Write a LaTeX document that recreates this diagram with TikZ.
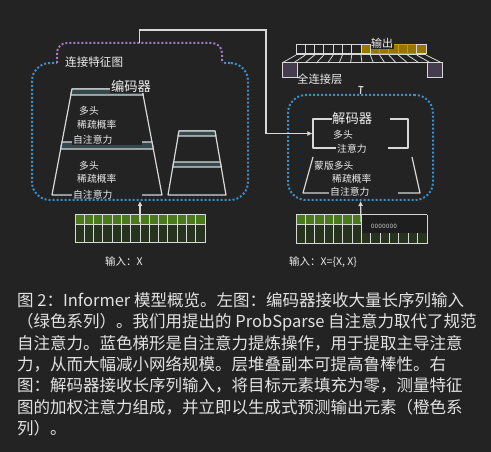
\documentclass[tikz,border=0pt]{standalone}
\usepackage{fontspec}
\newfontfamily\cjk{Noto Sans CJK SC}
\usetikzlibrary{arrows.meta}
\definecolor{bgdark}{HTML}{232323}
\definecolor{lineg}{HTML}{D8D8D8}
\definecolor{barfill}{HTML}{34494D}
\definecolor{encblue}{HTML}{3B8FCA}
\definecolor{catpurple}{HTML}{A57AC9}
\definecolor{ingreen}{HTML}{4B7A1D}
\definecolor{indark}{HTML}{28331F}
\definecolor{outgold}{HTML}{9A7400}
\definecolor{goldline}{HTML}{C49A16}
\definecolor{fcpurple}{HTML}{453D4D}
\definecolor{txtw}{HTML}{EEEEEE}
\definecolor{captxt}{HTML}{E2E2E2}

\begin{document}
\begin{tikzpicture}[x=1pt,y=-1pt,>={Latex[length=5pt,width=5pt]},
    every node/.style={inner sep=0pt,text=txtw},
    lbl/.style={font=\cjk\fontsize{9.8}{11}\selectfont,anchor=west},
    lblmask/.style={lbl,fill=bgdark,inner xsep=1pt,inner ysep=0.5pt,align=left},
    boxtitle/.style={font=\cjk\fontsize{13.3}{15}\selectfont,fill=bgdark,inner sep=1pt},
    capline/.style={font=\cjk\fontsize{16.5}{21}\selectfont,text=captxt,anchor=base west},
    stackline/.style={draw=lineg,line width=1.2pt,line join=round},
    stackbar/.style={stackline,fill=barfill},
    dotbox/.style={dash pattern=on 2pt off 2pt,line width=2pt,rounded corners=18pt},
    flow/.style={draw=lineg,line width=1.2pt},
    gridline/.style={draw=lineg,line width=1pt}]
\fill[bgdark] (0,0) rectangle (491,452);
\useasboundingbox (0,0) rectangle (491,452);

% encoder stack
\draw[stackline] (72,89) -- (52,195) -- (162,195) -- (142,89) -- cycle;
\draw[stackbar] (72,89) -- (142,89) -- (143.1,95) -- (70.9,95) -- cycle;
\draw[stackbar] (62,142) -- (152,142) -- (153.3,149) -- (60.7,149) -- cycle;
\draw[stackline] (179,131) -- (168,195) -- (226,195) -- (215,131) -- cycle;
\draw[stackbar] (179,131) -- (215,131) -- (215.9,136) -- (178.1,136) -- cycle;
\draw[stackbar] (173.7,162) -- (220.3,162) -- (221.2,167) -- (172.8,167) -- cycle;
\node[lbl] (emh1) at (79,111) {多头};
\node[lbl] (esp1) at (77,125) {稀疏概率};
\node[lblmask,text width=68pt] (esa1) at (72,140) {自注意力};
\node[lbl] (emh2) at (79,166) {多头};
\node[lbl] (esp2) at (77,179) {稀疏概率};
\node[lblmask,text width=68pt] (esa2) at (72,195) {自注意力};
\node[boxtitle] (enctitle) at (131,86) {编码器};

% decoder stack
\node[stackline,minimum width=95pt,minimum height=29pt] (xatt) at (360.5,133.5) {};
\draw[stackline] (313,157) -- (303,193) -- (420,193) -- (412,157);
\node[boxtitle,anchor=west,text width=58pt,align=left,inner sep=0pt] (dectitle) at (332,118) {解码器};
\node[lbl] (dmh1) at (333,135) {多头};
\node[lblmask,text width=50pt] (dxa) at (336,149) {注意力};
\node[lbl] (dmask) at (314,166) {蒙版多头};
\node[lbl] (dsp) at (332,179) {稀疏概率};
\node[lblmask,text width=67pt] (dsa) at (329,192) {自注意力};

% dotted boxes
\node[dotbox,draw=encblue,minimum width=216pt,minimum height=137pt] (enc) at (140,131.5) {};
\node[dotbox,draw=encblue,minimum width=145pt,minimum height=105pt] (dec) at (360.5,147.5) {};
\fill[bgdark] (57,43) rectangle (222,64);
\draw[dotbox,draw=catpurple,rounded corners=10pt] (57,63) -- (57,43) -- (222,43) -- (222,63);
\coordinate (cat) at (139.5,43);
\node[font=\cjk\fontsize{11.6}{13}\selectfont,fill=bgdark,inner sep=1pt,anchor=west] (catlbl) at (64,62) {连接特征图};

% encoder input
\fill[ingreen] (75,215) rectangle (205,225);
\fill[indark] (75,225) rectangle (205,243);
\foreach \k in {0,...,14}
  \draw[gridline] ({75+\k*130/14},215) -- ({75+\k*130/14},243);
\draw[gridline] (75,225) -- (205,225);
\draw[gridline] (75,215) rectangle (205,243);
\coordinate (encin) at (140,222);
\node[font=\cjk\fontsize{10.5}{12}\selectfont] (enclbl) at (124,261) {输入：X};

% decoder input
\fill[ingreen] (296,215) rectangle (361.5,225);
\fill[indark] (296,225) rectangle (427,244);
\foreach \k in {0,...,14}
  \draw[gridline] ({296+\k*131/14},215) -- ({296+\k*131/14},244);
\fill[bgdark!85!black] (361.5,215) rectangle (427,233);
\draw[gridline] (296,225) -- (361.5,225);
\draw[gridline] (361.5,215) -- (296,215) -- (296,244) -- (427,244) -- (427,233);
\draw[gridline] (361.5,215) -- (427,215);
\node[font=\fontsize{7}{8}\selectfont\ttfamily,text=lineg] (zeros) at (384,226) {0000000};
\coordinate (decin) at (361,222);
\node[font=\cjk\fontsize{10.5}{12}\selectfont,anchor=west] (declbl) at (289,262) {输入：X=\{X, X\}};

% fully connected layer and output
\foreach \k in {0,...,14}
  \draw[gridline,line width=0.8pt] ({296+\k*130/14},55) -- ({282+\k*160/14},63);
\draw[gridline] (296,55) -- (426,55);
\draw[gridline] (282,63) -- (442,63);
\draw[gridline,fill=fcpurple] (282,63) rectangle (297,78);
\draw[gridline,fill=fcpurple] (427,63) rectangle (442,78);
\foreach \k in {0,...,6}
  \draw[gridline] ({296+\k*130/14},45) rectangle ++({130/14},9);
\foreach \k in {7,...,13}
  \draw[draw=goldline,fill=outgold,line width=1pt] ({296+\k*130/14},45) rectangle ++({130/14},9);
\draw[gridline] (361,45) rectangle ++({130/14},9);
\draw[gridline] ({296+13*130/14},45) rectangle (426,54);
\node[font=\cjk\fontsize{11}{12}\selectfont,fill=bgdark,inner sep=0.5pt] (outlbl) at (382,43) {输出};
\node[font=\cjk\fontsize{11.3}{13}\selectfont,anchor=west] (fclbl) at (297,79) {全连接层};
\coordinate (fcin) at (361,86);

% connectors
\draw[flow,->] (encin) -- (enc.south);
\draw[flow,->] (decin) -- (dec.south);
\draw[flow,-{Bar[width=5pt]}] (dec.north) -- (fcin);
\draw[flow,->] (cat) |- (266,30) |- (xatt.west);

% caption
\foreach \t [count=\i from 0] in {%
  图 2：Informer 模型概览。左图：编码器接收大量长序列输入,
  （绿色系列）。我们用提出的 ProbSparse 自注意力取代了规范,
  自注意力。蓝色梯形是自注意力提炼操作，用于提取主导注意,
  力，从而大幅减小网络规模。层堆叠副本可提高鲁棒性。右,
  图：解码器接收长序列输入，将目标元素填充为零，测量特征,
  图的加权注意力组成，并立即以生成式预测输出元素（橙色系,
  列）。}
  \node[capline] (cap\i) at (17,{306.3+21.4*\i}) {\t};
\end{tikzpicture}
\end{document}
